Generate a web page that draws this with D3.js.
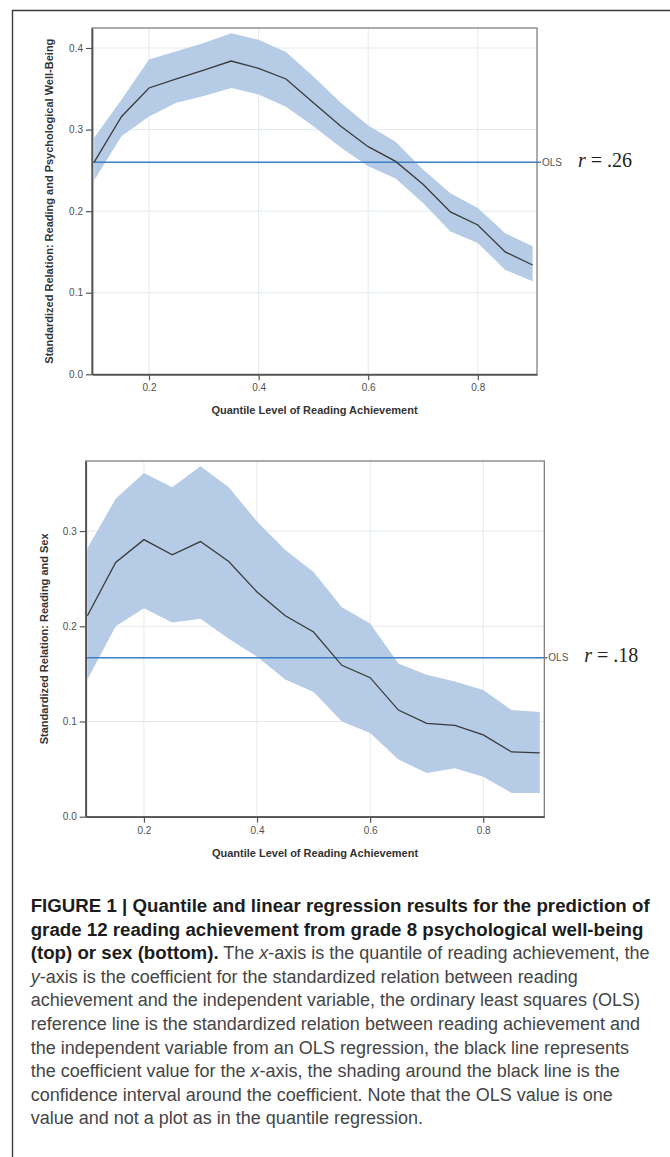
<!DOCTYPE html>
<html>
<head>
<meta charset="utf-8">
<script src="https://cdn.jsdelivr.net/npm/d3@7"></script>
<style>
  html, body { margin: 0; padding: 0; background: #fff; }
  svg { display: block; }
</style>
</head>
<body>
<svg id="chart" width="670" height="1157"></svg>
<script>
// ---------- DATA ----------
const quantiles = [0.10,0.15,0.20,0.25,0.30,0.35,0.40,0.45,0.50,0.55,0.60,0.65,0.70,0.75,0.80,0.85,0.90];

// Top panel: reading vs psychological well-being
const wellbeingCoef  = [0.260,0.316,0.351,0.362,0.373,0.384,0.375,0.362,0.333,0.304,0.279,0.261,0.233,0.199,0.183,0.150,0.134];
const wellbeingUpper = [0.290,0.337,0.386,0.396,0.406,0.418,0.410,0.395,0.365,0.333,0.305,0.285,0.251,0.222,0.204,0.173,0.157];
const wellbeingLower = [0.238,0.292,0.316,0.333,0.341,0.351,0.343,0.328,0.304,0.278,0.255,0.240,0.210,0.175,0.161,0.128,0.114];
const olsWellbeing = 0.26;
const olsWellbeingLabel = ".26";

// Bottom panel: reading vs sex
const sexCoef  = [0.211,0.267,0.291,0.275,0.289,0.268,0.236,0.211,0.194,0.159,0.146,0.112,0.098,0.096,0.086,0.068,0.067];
const sexUpper = [0.282,0.334,0.361,0.346,0.368,0.346,0.310,0.280,0.257,0.220,0.203,0.161,0.149,0.142,0.133,0.112,0.110];
const sexLower = [0.144,0.200,0.219,0.204,0.208,0.187,0.168,0.144,0.131,0.100,0.088,0.060,0.046,0.051,0.042,0.025,0.025];
const olsSex = 0.167;
const olsSexLabel = ".18";

const xTicks = [0.2, 0.4, 0.6, 0.8];
const yTicksTop = [0.0, 0.1, 0.2, 0.3, 0.4];
const yTicksBottom = [0.0, 0.1, 0.2, 0.3];

const xTitle = "Quantile Level of Reading Achievement";
const yTitleTop = "Standardized Relation: Reading and Psychological Well-Being";
const yTitleBottom = "Standardized Relation: Reading and Sex";

const captionLines = [
  [["b","FIGURE 1 | Quantile and linear regression results for the prediction of"]],
  [["b","grade 12 reading achievement from grade 8 psychological well-being"]],
  [["b","(top) or sex (bottom)."],["r"," The "],["i","x"],["r","-axis is the quantile of reading achievement, the"]],
  [["i","y"],["r","-axis is the coefficient for the standardized relation between reading"]],
  [["r","achievement and the independent variable, the ordinary least squares (OLS)"]],
  [["r","reference line is the standardized relation between reading achievement and"]],
  [["r","the independent variable from an OLS regression, the black line represents"]],
  [["r","the coefficient value for the "],["i","x"],["r","-axis, the shading around the black line is the"]],
  [["r","confidence interval around the coefficient. Note that the OLS value is one"]],
  [["r","value and not a plot as in the quantile regression."]]
];

// ---------- DRAW ----------
const svg = d3.select("#chart");
const sans = "'Liberation Sans', Arial, Helvetica, sans-serif";
const serif = "'Liberation Serif', 'Times New Roman', serif";

// outer frame
svg.append("path")
  .attr("d", d3.line()([[12.5, 1157],[12.5, 10.5],[670, 10.5]]))
  .attr("fill","none").attr("stroke","#3a3a3a").attr("stroke-width",1.4);

function panel(cfg) {
  const x = d3.scaleLinear().domain(cfg.xDomain).range([cfg.left, cfg.right]);
  const y = d3.scaleLinear().domain(cfg.yDomain).range([cfg.bottom, cfg.top]);
  const g = svg.append("g");

  // grid
  g.selectAll(".gx").data(xTicks).join("line")
    .attr("x1", d => x(d)).attr("x2", d => x(d))
    .attr("y1", cfg.top).attr("y2", cfg.bottom)
    .attr("stroke", "#e3eaee").attr("stroke-width", 1);
  g.selectAll(".gy").data(cfg.yTicks.filter(d => d > 0)).join("line")
    .attr("x1", cfg.left).attr("x2", cfg.right)
    .attr("y1", d => y(d)).attr("y2", d => y(d))
    .attr("stroke", "#e3eaee").attr("stroke-width", 1);

  // band
  const area = d3.area()
    .x((d, i) => x(quantiles[i]))
    .y0((d, i) => y(cfg.lower[i]))
    .y1((d, i) => y(cfg.upper[i]));
  g.append("path").datum(cfg.coef).attr("d", area)
    .attr("fill", "#b6cce6").attr("stroke", "none");

  // OLS line
  g.append("line")
    .attr("x1", cfg.left).attr("x2", cfg.right + cfg.olsExt)
    .attr("y1", y(cfg.ols)).attr("y2", y(cfg.ols))
    .attr("stroke", "#3d7ec6").attr("stroke-width", 1.4);

  // coefficient line
  const line = d3.line().x((d, i) => x(quantiles[i])).y(d => y(d));
  g.append("path").datum(cfg.coef).attr("d", line)
    .attr("fill", "none").attr("stroke", "#3a3a3a").attr("stroke-width", 1.3);

  // frame
  g.append("rect")
    .attr("x", cfg.left).attr("y", cfg.top)
    .attr("width", cfg.right - cfg.left).attr("height", cfg.bottom - cfg.top)
    .attr("fill", "none").attr("stroke", "#7a7474").attr("stroke-width", 1.2);

  // axes
  const ax = g.append("g").attr("transform", `translate(0,${cfg.bottom})`)
    .call(d3.axisBottom(x).tickValues(xTicks).tickFormat(d3.format(".1f")).tickSize(6).tickSizeOuter(0).tickPadding(4));
  const ay = g.append("g").attr("transform", `translate(${cfg.left},0)`)
    .call(d3.axisLeft(y).tickValues(cfg.yTicks).tickFormat(d3.format(".1f")).tickSize(6).tickSizeOuter(0).tickPadding(3));
  [ax, ay].forEach(a => {
    a.select(".domain").attr("stroke", "#555").attr("stroke-width", 1.8);
    a.selectAll(".tick line").attr("stroke", "#555").attr("stroke-width", 1.2);
    a.selectAll(".tick text").attr("fill", "#505050").attr("font-size", 10).attr("font-family", sans);
  });

  // titles
  g.append("text")
    .attr("x", (cfg.left + cfg.right) / 2).attr("y", cfg.xTitleY)
    .attr("text-anchor", "middle").attr("font-family", sans).attr("font-weight", "bold")
    .attr("font-size", 11).attr("fill", "#333").text(xTitle);
  g.append("text")
    .attr("transform", `translate(${cfg.yTitleX},${(cfg.top + cfg.bottom) / 2}) rotate(-90)`)
    .attr("text-anchor", "middle").attr("font-family", sans).attr("font-weight", "bold")
    .attr("font-size", 11).attr("fill", "#333").text(cfg.yTitle);

  // OLS label
  const ly = y(cfg.ols);
  g.append("text").attr("x", cfg.right + cfg.olsExt + 1).attr("y", ly + 3.5)
    .attr("font-family", sans).attr("font-size", 10).attr("fill", "#555").text("OLS");
  const rt = g.append("text").attr("x", cfg.right + cfg.olsExt + 37).attr("y", ly + 4.5)
    .attr("font-family", serif).attr("font-size", 20).attr("fill", "#222");
  rt.append("tspan").attr("font-style", "italic").text("r");
  rt.append("tspan").text(" = " + cfg.olsLabel);
}

panel({
  left: 92, right: 537, top: 28, bottom: 374.3,
  xDomain: [0.096, 0.908], yDomain: [0, 0.4245],
  yTicks: yTicksTop, coef: wellbeingCoef, upper: wellbeingUpper, lower: wellbeingLower,
  ols: olsWellbeing, olsLabel: olsWellbeingLabel, olsExt: 4,
  xTitleY: 414, yTitleX: 53, yTitle: yTitleTop
});

panel({
  left: 85.7, right: 544.3, top: 461, bottom: 816.7,
  xDomain: [0.097, 0.908], yDomain: [0, 0.3736],
  yTicks: yTicksBottom, coef: sexCoef, upper: sexUpper, lower: sexLower,
  ols: olsSex, olsLabel: olsSexLabel, olsExt: 3,
  xTitleY: 857, yTitleX: 48, yTitle: yTitleBottom
});

// caption
const cap = svg.append("g");
captionLines.forEach((segs, i) => {
  const t = cap.append("text")
    .attr("x", 30.7).attr("y", 912 + i * 23.6)
    .attr("font-family", sans).attr("font-size", 18);
  segs.forEach(([s, txt]) => {
    const ts = t.append("tspan").text(txt);
    if (s === "b") ts.attr("font-weight", "bold").attr("fill", "#1c1c1c").attr("font-size", 18.7);
    else ts.attr("fill", "#454545");
    if (s === "i") ts.attr("font-style", "italic");
  });
});
</script>
</body>
</html>
